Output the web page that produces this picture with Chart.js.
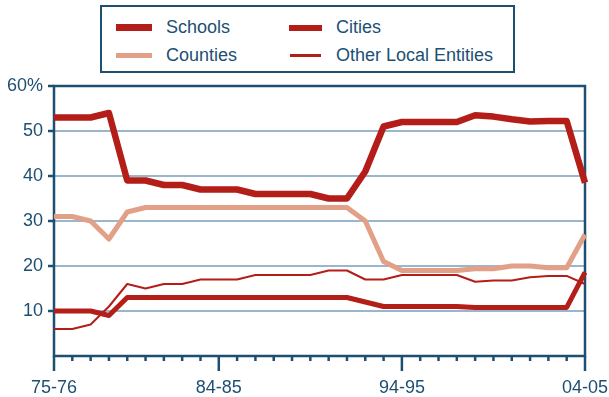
<!DOCTYPE html>
<html>
<head>
<meta charset="utf-8">
<script src="https://cdn.jsdelivr.net/npm/chart.js@4"></script>
<style>
  body{margin:0;background:#fff;}
  #wrap{position:relative;width:609px;height:397px;font-family:"Liberation Sans",Arial,Helvetica,sans-serif;color:#1d4f73;}
  #legend{position:absolute;left:100px;top:5px;width:411px;height:64px;border:2.5px solid #1d4f73;background:#fff;}
  .sw{position:absolute;}
  .lt{position:absolute;font-size:18px;line-height:18px;white-space:nowrap;}
</style>
</head>
<body>
<div id="wrap">
  <canvas id="c" width="609" height="397"></canvas>
  <div id="legend">
    <div class="sw" style="left:14px;top:17px;width:36px;height:7px;background:#b41e18"></div>
    <div class="lt" style="left:64px;top:11px">Schools</div>
    <div class="sw" style="left:14px;top:46px;width:36px;height:5px;background:#e3a088"></div>
    <div class="lt" style="left:64px;top:39px">Counties</div>
    <div class="sw" style="left:187px;top:18px;width:33px;height:6px;background:#b41e18"></div>
    <div class="lt" style="left:234px;top:11px">Cities</div>
    <div class="sw" style="left:188px;top:47px;width:31px;height:2.5px;background:#b41e18"></div>
    <div class="lt" style="left:234px;top:39px">Other Local Entities</div>
  </div>
</div>
<script>
const el = (s) => document.querySelector(s);

// fiscal years 75-76 .. 04-05
const years = ['75-76','76-77','77-78','78-79','79-80','80-81','81-82','82-83','83-84','84-85',
  '85-86','86-87','87-88','88-89','89-90','90-91','91-92','92-93','93-94','94-95',
  '95-96','96-97','97-98','98-99','99-00','00-01','01-02','02-03','03-04','04-05'];
const shownYears = ['75-76','84-85','94-95','04-05'];

const schools  = [53,53,53,54,39,39,38,38,37,37,37,36,36,36,36,35,35,41,51,52,52,52,52,53.5,53.2,52.6,52.1,52.2,52.2,38.5];
const counties = [31,31,30,26,32,33,33,33,33,33,33,33,33,33,33,33,33,30,21,19,19,19,19,19.4,19.4,20,20,19.6,19.6,27];
const cities   = [10,10,10,9,13,13,13,13,13,13,13,13,13,13,13,13,13,12,11,11,11,11,11,10.8,10.8,10.8,10.8,10.8,10.8,18.6];
const others   = [6,6,7,11,16,15,16,16,17,17,17,18,18,18,18,19,19,17,17,18,18,18,18,16.5,16.8,16.8,17.5,17.8,17.8,16];

const navy = '#1d4f73', red = '#b41e18', salmon = '#e3a088', grid = '#9ab6cc';

// frame + x ticks (minor every year, long at labelled years)
const framePlugin = {
  id:'frame',
  beforeDatasetsDraw(chart){
    const {ctx, chartArea:a, scales:{x}} = chart;
    ctx.save();
    ctx.strokeStyle = navy; ctx.lineWidth = 2.5;
    ctx.strokeRect(a.left, a.top, a.right-a.left, a.bottom-a.top);
    x.ticks.forEach((t,i)=>{
      const px = x.getPixelForTick(i);
      const major = shownYears.includes(years[i]);
      ctx.beginPath(); ctx.moveTo(px, a.bottom); ctx.lineTo(px, a.bottom + (major?15:5)); ctx.stroke();
    });
    ctx.restore();
  }
};

const ds = (label, data, color, w) => ({label, data, borderColor:color, backgroundColor:color, borderWidth:w, pointRadius:0, tension:0, fill:false, borderJoinStyle:'round'});

new Chart(el('#c').getContext('2d'), {
  type:'line',
  data:{
    labels: years,
    datasets:[
      ds('Schools', schools, red, 6.5),
      ds('Cities', cities, red, 5),
      ds('Counties', counties, salmon, 5),
      ds('Other Local Entities', others, red, 2)
    ]
  },
  options:{
    responsive:false, animation:false,
    layout:{padding:{top:86, right:24, left:0, bottom:0}},
    plugins:{legend:{display:false}, tooltip:{enabled:false}},
    scales:{
      x:{
        offset:false,
        border:{display:false},
        grid:{display:true, drawOnChartArea:false, drawTicks:false, color:'rgba(0,0,0,0)'},
        ticks:{autoSkip:false, maxRotation:0, padding:21, color:navy,
          font:{family:'"Liberation Sans",Arial,sans-serif', size:18},
          callback:(v,i)=> shownYears.includes(years[i]) ? years[i] : ''},
        afterFit:(s)=>{ s.height = 41; s.paddingLeft = 0; s.paddingRight = 0; }
      },
      y:{
        min:0, max:60,
        border:{display:false},
        grid:{
          color:(c)=> (c.tick && (c.tick.value===0 || c.tick.value===60)) ? 'rgba(0,0,0,0)' : grid,
          lineWidth:2, tickLength:6, tickWidth:2.5,
          tickColor:(c)=> (c.tick && c.tick.value===0) ? 'rgba(0,0,0,0)' : navy
        },
        ticks:{stepSize:10, padding:5, color:navy,
          font:{family:'"Liberation Sans",Arial,sans-serif', size:18},
          callback:(v)=> v===60 ? '60%' : (v===0 ? '' : v)},
        afterFit:(s)=>{ s.width = 54; s.paddingTop = 0; s.paddingBottom = 0; }
      }
    }
  },
  plugins:[framePlugin]
});
</script>
</body>
</html>
